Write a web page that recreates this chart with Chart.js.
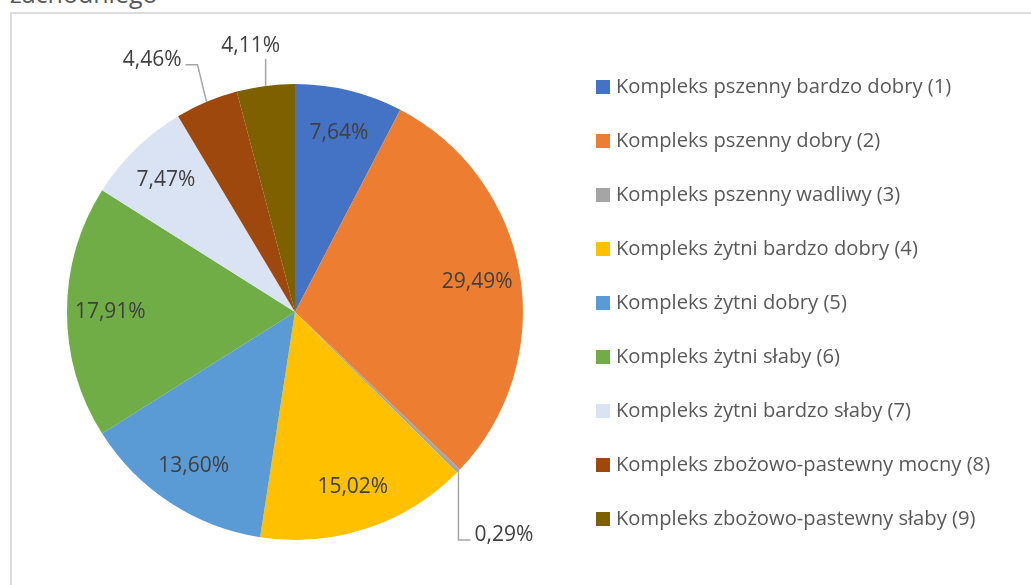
<!DOCTYPE html>
<html>
<head>
<meta charset="utf-8">
<script src="https://cdn.jsdelivr.net/npm/chart.js@4"></script>
<style>
  html, body { margin: 0; padding: 0; background: #fff; overflow: hidden; }
  #wrap { position: relative; width: 1031px; height: 585px; }
  #frame { position: absolute; left: 10px; top: 12px; width: 1040px; height: 600px;
           border-left: 2px solid #dcdcdc; border-top: 2px solid #dcdcdc; box-sizing: border-box; }
  #title { position: absolute; left: 10px; top: -24px; font: 25px "Open Sans", sans-serif; color: #595959; }
  canvas { position: absolute; left: 0; top: 0; }
</style>
</head>
<body>
<div id="wrap">
  <div id="frame"></div>
  <div id="title">zachodniego</div>
  <canvas id="pie" width="1031" height="585"></canvas>
</div>
<script>
var labels = [
  "Kompleks pszenny bardzo dobry (1)",
  "Kompleks pszenny dobry (2)",
  "Kompleks pszenny wadliwy (3)",
  "Kompleks żytni bardzo dobry (4)",
  "Kompleks żytni dobry (5)",
  "Kompleks żytni słaby (6)",
  "Kompleks żytni bardzo słaby (7)",
  "Kompleks zbożowo-pastewny mocny (8)",
  "Kompleks zbożowo-pastewny słaby (9)"
];
var shares = [7.64, 29.49, 0.29, 15.02, 13.60, 17.91, 7.47, 4.46, 4.11];
var colors = ["#4472C4", "#ED7D31", "#A5A5A5", "#FFC000", "#5B9BD5", "#70AD47", "#DAE3F3", "#9E480E", "#7F6000"];

// labels drawn outside the slice, with a leader line (elbow, end, text anchor offsets from the arc point)
var outside = {
  2: { elbow: [0, 69], end: [12, 69], text: [16, 64], align: "left" },
  7: { elbow: [-9, -37], end: [-21, -37], text: [-25, -42], align: "right" },
  8: { elbow: [0, -27], end: [0, -27], text: [-15, -40], align: "center" }
};

function fmt(v) { return v.toFixed(2).replace(".", ",") + "%"; }

var labelPlugin = {
  id: "pieLabels",
  afterDatasetsDraw: function (chart) {
    var ctx = chart.ctx;
    var meta = chart.getDatasetMeta(0);
    ctx.save();
    ctx.font = '21px "Open Sans", sans-serif';
    ctx.fillStyle = "#404040";
    ctx.textBaseline = "middle";
    meta.data.forEach(function (arc, i) {
      var p = arc.getProps(["x", "y", "startAngle", "endAngle", "outerRadius"], true);
      var mid = (p.startAngle + p.endAngle) / 2;
      var o = outside[i];
      if (!o) {
        var r = p.outerRadius * 0.81;
        ctx.textAlign = "center";
        ctx.fillText(fmt(shares[i]), p.x + Math.cos(mid) * r, p.y + Math.sin(mid) * r);
        return;
      }
      var ax = p.x + Math.cos(mid) * p.outerRadius;
      var ay = p.y + Math.sin(mid) * p.outerRadius;
      ctx.strokeStyle = "#a6a6a6";
      ctx.lineWidth = 1.5;
      ctx.beginPath();
      ctx.moveTo(ax, ay);
      ctx.lineTo(ax + o.elbow[0], ay + o.elbow[1]);
      ctx.lineTo(ax + o.end[0], ay + o.end[1]);
      ctx.stroke();
      ctx.textAlign = o.align;
      ctx.fillText(fmt(shares[i]), ax + o.text[0], ay + o.text[1]);
    });
    ctx.restore();
  }
};

var legendPlugin = {
  id: "sideLegend",
  afterDraw: function (chart) {
    var ctx = chart.ctx;
    ctx.save();
    ctx.font = '20.2px "Open Sans", sans-serif';
    ctx.textBaseline = "middle";
    ctx.textAlign = "left";
    chart.data.labels.forEach(function (lab, i) {
      var y = 87 + i * 54;
      ctx.fillStyle = chart.data.datasets[0].backgroundColor[i];
      ctx.fillRect(596, y - 7, 14, 14);
      ctx.fillStyle = "#595959";
      ctx.fillText(lab, 616, y);
    });
    ctx.restore();
  }
};

new Chart(document.getElementById("pie"), {
  type: "pie",
  data: {
    labels: labels,
    datasets: [{
      data: shares,
      backgroundColor: colors,
      borderWidth: 0
    }]
  },
  options: {
    responsive: false,
    animation: false,
    layout: { padding: { left: 67, right: 508, top: 84, bottom: 45 } },
    plugins: {
      legend: { display: false },
      tooltip: { enabled: false }
    }
  },
  plugins: [labelPlugin, legendPlugin]
});
</script>
</body>
</html>
